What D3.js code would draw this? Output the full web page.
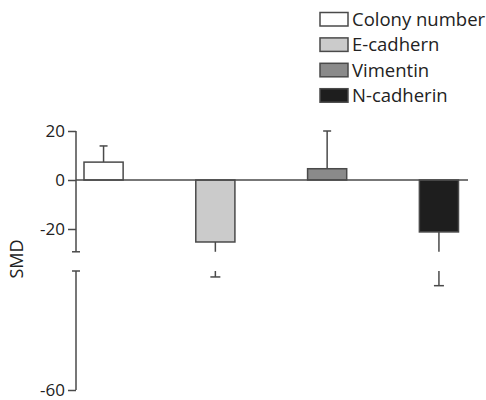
<!DOCTYPE html>
<html>
<head>
<meta charset="utf-8">
<script src="https://cdn.jsdelivr.net/npm/d3@7"></script>
<style>
  body { margin: 0; background: #fff; }
  text { font-family: "Open Sans", sans-serif; fill: #222; }
</style>
</head>
<body>
<div id="viz"></div>
<script>
// data
var categories = ['Colony number', 'E-cadhern', 'Vimentin', 'N-cadherin'];
var smd = [7.3, -25.3, 4.6, -21.2];
var errEnd = [13.9, -31.5, 20, -33.7];
var colors = ['#ffffff', '#cbcbcb', '#8a8a8a', '#1e1e1e'];
var upperTicks = [20, 0, -20];
var lowerTicks = [-60];

var width = 486, height = 400;
var stroke = '#4a4a4a';

var svg = d3.select('#viz').append('svg')
  .attr('width', width)
  .attr('height', height);

// broken axis: two segments
var upperMin = -29.3, lowerMax = -30;
var yUp = d3.scaleLinear().domain([20, -20]).range([131, 229]);
var yLow = d3.scaleLinear().domain([lowerMax, -60]).range([271, 390]);

var x = d3.scaleBand()
  .domain(categories)
  .range([84, 458.5])
  .paddingInner(0.65)
  .paddingOuter(0);

var axisX = 76;
var fmt = function (d) { return String(d); }; // plain hyphen like the original

// upper axis
var gUp = svg.append('g').attr('transform', 'translate(' + axisX + ',0)');
gUp.call(d3.axisLeft(yUp).tickValues(upperTicks).tickFormat(fmt).tickSize(8).tickSizeOuter(0).tickPadding(3));
gUp.select('.domain').attr('d', 'M0,' + yUp(20) + 'V' + yUp(upperMin));
gUp.append('line')
  .attr('x1', -4).attr('x2', 4)
  .attr('y1', yUp(upperMin)).attr('y2', yUp(upperMin));

// lower axis
var gLow = svg.append('g').attr('transform', 'translate(' + axisX + ',0)');
gLow.call(d3.axisLeft(yLow).tickValues(lowerTicks).tickFormat(fmt).tickSize(8).tickSizeOuter(0).tickPadding(3));
gLow.select('.domain').attr('d', 'M0,' + yLow(lowerMax) + 'V' + yLow(-60));
gLow.append('line')
  .attr('x1', -4).attr('x2', 4)
  .attr('y1', yLow(lowerMax)).attr('y2', yLow(lowerMax));

svg.selectAll('.domain, .tick line, g > line')
  .attr('stroke', stroke).attr('stroke-width', 1.5);
svg.selectAll('.tick text')
  .style('font-family', '"Open Sans", sans-serif')
  .style('font-size', '17px')
  .attr('fill', '#222');

// y label
svg.append('text')
  .attr('transform', 'translate(23,259) rotate(-90)')
  .attr('text-anchor', 'middle')
  .style('font-size', '18px')
  .text('SMD');

// error bars
var bw = x.bandwidth();
categories.forEach(function (c, i) {
  var cx = x(c) + bw / 2;
  var v = smd[i], e = errEnd[i];
  if (e >= upperMin) {
    svg.append('line').attr('x1', cx).attr('x2', cx)
      .attr('y1', yUp(v)).attr('y2', yUp(e));
    svg.append('line').attr('x1', cx - 4).attr('x2', cx + 4)
      .attr('y1', yUp(e)).attr('y2', yUp(e));
  } else {
    svg.append('line').attr('x1', cx).attr('x2', cx)
      .attr('y1', yUp(v)).attr('y2', yUp(upperMin));
    svg.append('line').attr('x1', cx).attr('x2', cx)
      .attr('y1', yLow(lowerMax)).attr('y2', yLow(e));
    svg.append('line').attr('x1', cx - 5).attr('x2', cx + 5)
      .attr('y1', yLow(e)).attr('y2', yLow(e));
  }
});
svg.selectAll('svg > line').attr('stroke', stroke).attr('stroke-width', 1.5);

// bars
svg.append('g').selectAll('rect')
  .data(categories)
  .enter().append('rect')
  .attr('x', function (d) { return x(d); })
  .attr('width', bw)
  .attr('y', function (d, i) { return yUp(Math.max(0, smd[i])); })
  .attr('height', function (d, i) { return Math.abs(yUp(smd[i]) - yUp(0)); })
  .attr('fill', function (d, i) { return colors[i]; })
  .attr('stroke', stroke)
  .attr('stroke-width', 1.5);

// zero line
svg.append('line')
  .attr('x1', axisX).attr('x2', 468)
  .attr('y1', yUp(0)).attr('y2', yUp(0))
  .attr('stroke', stroke).attr('stroke-width', 1.5);

// legend
var legend = svg.append('g').attr('transform', 'translate(320,12.5)');
var item = legend.selectAll('g')
  .data(categories)
  .enter().append('g')
  .attr('transform', function (d, i) { return 'translate(0,' + (i * 25.4) + ')'; });
item.append('rect')
  .attr('width', 28).attr('height', 13.5)
  .attr('fill', function (d, i) { return colors[i]; })
  .attr('stroke', stroke).attr('stroke-width', 1.5);
item.append('text')
  .attr('x', 32).attr('y', 13.5)
  .style('font-size', '18.5px')
  .text(function (d) { return d; });
</script>
</body>
</html>
